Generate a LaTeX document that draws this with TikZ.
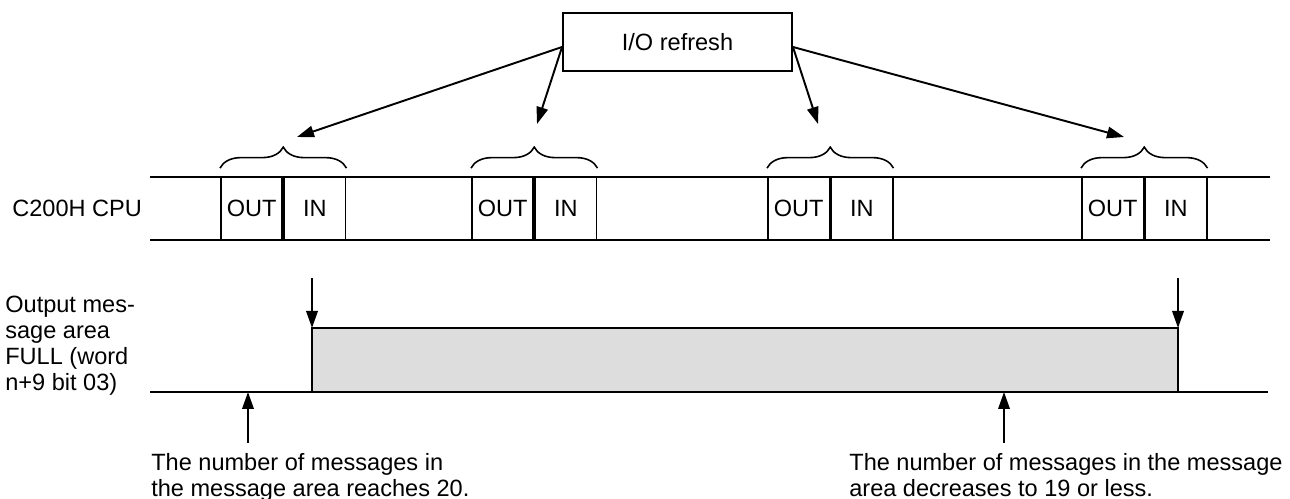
\documentclass[tikz,border=0pt]{standalone}
\usepackage{fontspec}
\setmainfont{Liberation Sans}
\usepackage{tikz}
\usetikzlibrary{arrows.meta, positioning, calc, decorations.pathreplacing}
\definecolor{fullgray}{RGB}{221,221,221}
\newcommand{\diagfont}{\fontsize{13.4}{14.7}\selectfont}
\tikzset{
  slot/.style={rectangle, draw, minimum width=1.23cm, minimum height=1.26cm,
    inner sep=0pt, font=\diagfont, line width=1pt},
  iobox/.style={rectangle, draw, minimum width=4.58cm, minimum height=1.16cm,
    inner sep=0pt, font=\diagfont, line width=1.1pt},
  note/.style={align=left, inner sep=0pt, font=\diagfont},
  brace/.style={decorate, decoration={brace, amplitude=0.42cm}, line width=0.9pt},
  arrow/.style={-{Triangle[length=3.4mm, width=2.3mm]}, line width=1.1pt},
  line/.style={line width=1.1pt}
}

\begin{document}
\begin{tikzpicture}[x=0.02cm, y=0.02cm]
  \useasboundingbox (0,0) rectangle (1290,499);

  % CPU cycle
  \node[note, anchor=west] (cpu) at (12,291) {C200H CPU};
  \draw[line] (150,322) -- (1270,322);
  \draw[line] (150,259) -- (1270,259);
  \foreach \x [count=\i] in {220,471,767,1081} {
    \node[slot, anchor=west, fill=white] (out\i) at (\x,290.5) {OUT};
    \node[slot, right=0pt of out\i, fill=white] (in\i) {IN};
    \draw[brace] ($(out\i.north west)+(0,8)$) -- ($(in\i.north east)+(0,8)$);
  }

  % I/O refresh
  \node[iobox] (io) at (677.5,457) {I/O refresh};
  \coordinate (tip1) at (297,362);
  \coordinate (tip2) at (537,375);
  \coordinate (tip3) at (818,375);
  \coordinate (tip4) at (1124,362);
  \draw[arrow] ($(io.west)+(0,-5)$) -- (tip1);
  \draw[arrow] ($(io.west)+(0,-5)$) -- (tip2);
  \draw[arrow] ($(io.east)+(0,-5)$) -- (tip3);
  \draw[arrow] ($(io.east)+(0,-5)$) -- (tip4);

  % FULL flag
  \node[note, anchor=north west] (flag) at (5,203)
    {Output mes-\\sage area\\FULL (word\\n+9 bit 03)};
  \coordinate (rise) at (312,171);
  \coordinate (fall) at (1178,171);
  \fill[fullgray] (312,107) rectangle (fall);
  \draw[line] (150,107) -- (1268,107);
  \draw[line] (312,107) -- (rise) -- (fall) -- (1178,107);
  \draw[arrow] ([yshift=1cm]rise) -- (rise);
  \draw[arrow] ([yshift=1cm]fall) -- (fall);

  % Notes
  \node[note, anchor=north west] (noteset) at (151,46)
    {The number of messages in\\the message area reaches 20.};
  \node[note, anchor=north west] (noteclr) at (849,46)
    {The number of messages in the message\\area decreases to 19 or less.};
  \coordinate (set) at (248,107);
  \coordinate (clr) at (1004,107);
  \draw[arrow] ([yshift=0.2cm]set |- noteset.north) -- (set);
  \draw[arrow] ([yshift=0.2cm]clr |- noteclr.north) -- (clr);
\end{tikzpicture}
\end{document}
